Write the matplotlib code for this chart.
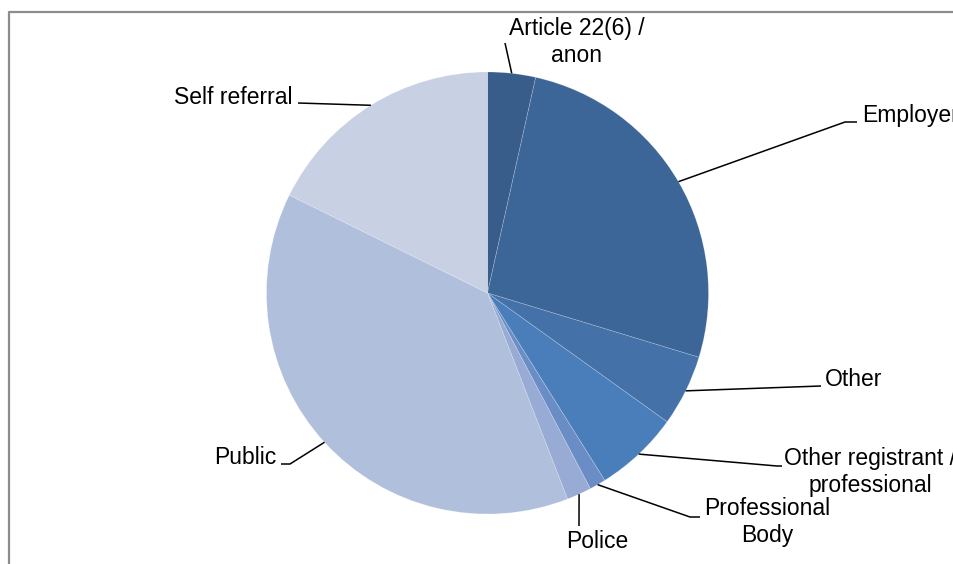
import matplotlib
matplotlib.use("Agg")
import matplotlib.pyplot as plt
import numpy as np

plt.rcParams['font.family'] = ['Liberation Sans', 'DejaVu Sans']

# Referral sources (percent of cases), clockwise from 12 o'clock
categories = ["Article 22(6) /\nanon", "Employer", "Other",
              "Other registrant /\nprofessional", "Professional\nBody",
              "Police", "Public", "Self referral"]
shares = [3.5, 26.2, 5.2, 6.2, 1.2, 1.8, 38.2, 17.7]
colors = ["#385d8a", "#3d6698", "#4371a8", "#4a7ebb", "#6b8dc6",
          "#97abd4", "#b0bfdb", "#c8d0e3"]

W, H = 954, 564
fig = plt.figure(figsize=(W / 100, H / 100), dpi=100)
ax = fig.add_axes([0, 0, 1, 1])

cx, cy, r = 487.5, 293.0, 221.0


def Y(y):
    # convert a top-based pixel row into the axes' y coordinate
    return H - y


ax.pie(shares, colors=colors, startangle=90, counterclock=False,
       center=(cx, Y(cy)), radius=r, frame=True,
       wedgeprops=dict(edgecolor=(1, 1, 1, 0.25), linewidth=0.5))
ax.set_xlim(0, W)
ax.set_ylim(0, H)
ax.set_aspect('equal')
ax.axis('off')

# mid-angle anchor point on the rim for every slice
total = sum(shares)
cum = np.cumsum([0] + shares)
anchors = []
for i in range(len(shares)):
    mid = np.deg2rad((cum[i] + cum[i + 1]) / 2 / total * 360)
    anchors.append((cx + r * np.sin(mid), cy - r * np.cos(mid)))

# leader-line elbow points and label placement (pixel rows from the top)
label_layout = [
    dict(path=[(505, 43)], text=(577, 42), ha='center'),
    dict(path=[(845, 122), (857, 122)], text=(862, 115), ha='left'),
    dict(path=[(821, 386)], text=(825, 379), ha='left'),
    dict(path=[(777, 466), (782, 466)], text=(870, 472), ha='center'),
    dict(path=[(690, 517), (700, 517)], text=(767, 522), ha='center'),
    dict(path=[(579, 526)], text=(597, 541), ha='center'),
    dict(path=[(290, 464), (281, 464)], text=(276, 457), ha='right'),
    dict(path=[(298, 103)], text=(293, 97), ha='right'),
]

for name, (ax0, ay0), lay in zip(categories, anchors, label_layout):
    pts = [(ax0, ay0)] + lay['path']
    xs = [p[0] for p in pts]
    ys = [Y(p[1]) for p in pts]
    ax.plot(xs, ys, color='black', linewidth=1.1, solid_capstyle='butt')
    tx, ty = lay['text']
    ax.text(tx, Y(ty), name, ha=lay['ha'], va='center', fontsize=16.5,
            color='black', multialignment='center', linespacing=1.17)

# chart area border
ax.plot([9, 9, W + 5], [Y(H + 5), Y(11.5), Y(11.5)], color='#8c8c8c',
        linewidth=1.6, clip_on=False)

fig.savefig("out.png", dpi=100)
